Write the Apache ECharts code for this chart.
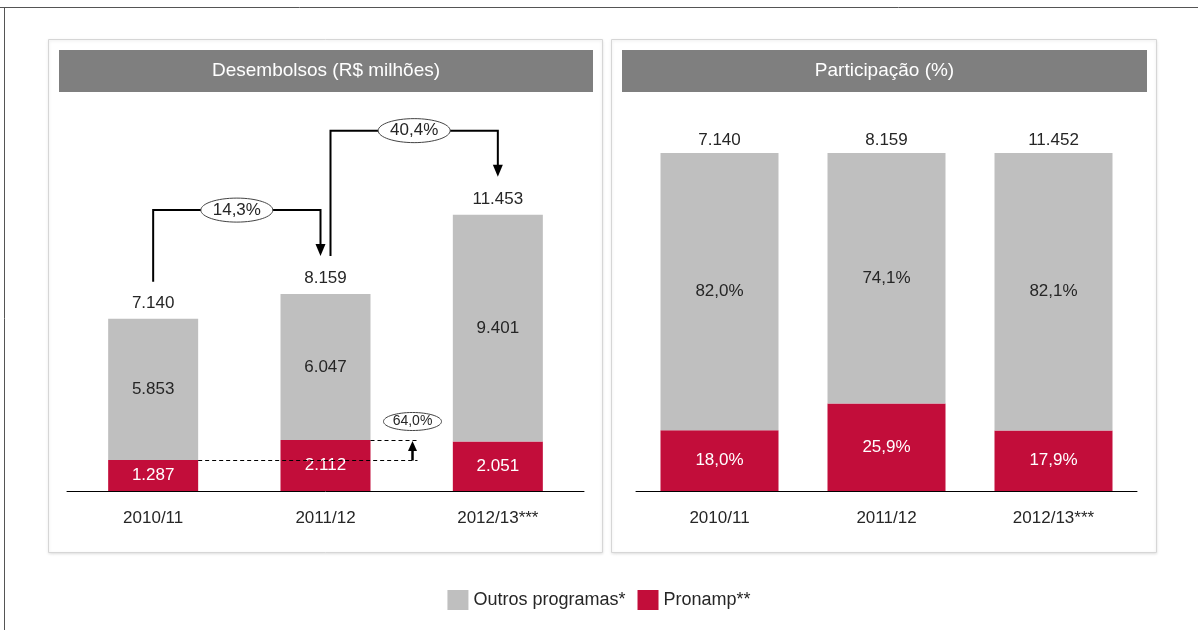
<!DOCTYPE html>
<html>
<head>
<meta charset="utf-8">
<script src="https://cdn.jsdelivr.net/npm/echarts@6/dist/echarts.min.js"></script>
<style>
  html, body { margin: 0; padding: 0; background: #fff; }
  #chart { width: 1198px; height: 630px; }
</style>
</head>
<body>
<div id="chart"></div>
<script>
// data
const categories = ['2010/11', '2011/12', '2012/13***']
const outrosValues = [5853, 6047, 9401]
const pronampValues = [1287, 2112, 2051]
const totalLabels = ['7.140', '8.159', '11.453']

const outrosShare = [82.0, 74.1, 82.1]
const pronampShare = [18.0, 25.9, 17.9]
const shareTotalLabels = ['7.140', '8.159', '11.452']

const growthLabels = ['14,3%', '40,4%']
const pronampGrowthLabel = '64,0%'

const GRAY = '#bfbfbf'
const RED = '#c20d3a'
const FONT = '"Liberation Sans", Arial, sans-serif'
const TEXT = '#262626'

function fmtThousands(v) {
  return String(v).replace(/\B(?=(\d{3})+(?!\d))/g, '.')
}
function fmtPct(v) {
  return v.toFixed(1).replace('.', ',') + '%'
}

const totals = outrosValues.map((v, i) => v + pronampValues[i])

const chart = echarts.init(document.getElementById('chart'))

const labelBase = { fontFamily: FONT, fontSize: 17 }

const option = {
  animation: false,
  textStyle: { fontFamily: FONT },
  legend: {
    data: [{ name: 'Outros programas*' }, { name: 'Pronamp**' }],
    left: 'center',
    top: 585,
    icon: 'rect',
    itemWidth: 21,
    itemHeight: 20,
    itemGap: 12,
    textStyle: { color: TEXT, fontSize: 18, fontFamily: FONT },
  },
  grid: [
    { left: 67, right: 1198 - 584, top: 129, bottom: 139 },
    { left: 636, right: 1198 - 1137, top: 153, bottom: 139 },
  ],
  xAxis: [0, 1].map(i => ({
    type: 'category',
    gridIndex: i,
    data: categories,
    axisLine: { lineStyle: { color: '#000', width: 1 } },
    axisTick: { show: false },
    axisLabel: { color: TEXT, fontSize: 17, fontFamily: FONT, margin: 19 },
  })),
  yAxis: [
    { type: 'value', gridIndex: 0, min: 0, max: 15000, show: false, splitLine: { show: false } },
    { type: 'value', gridIndex: 1, min: 0, max: 100, show: false, splitLine: { show: false } },
  ],
  series: [
    {
      name: 'Pronamp**',
      type: 'bar',
      stack: 'left',
      xAxisIndex: 0,
      yAxisIndex: 0,
      barWidth: 90,
      itemStyle: { color: RED },
      label: { show: true, position: 'inside', color: '#fff', ...labelBase, formatter: p => fmtThousands(p.value) },
      data: pronampValues,
    },
    {
      name: 'Outros programas*',
      type: 'bar',
      stack: 'left',
      xAxisIndex: 0,
      yAxisIndex: 0,
      barWidth: 90,
      itemStyle: { color: GRAY },
      label: { show: true, position: 'inside', color: TEXT, ...labelBase, formatter: p => fmtThousands(p.value) },
      data: outrosValues,
    },
    {
      name: 'totais',
      type: 'scatter',
      xAxisIndex: 0,
      yAxisIndex: 0,
      symbolSize: 0,
      silent: true,
      itemStyle: { opacity: 1 },
      label: { show: true, position: 'top', distance: 7, color: TEXT, ...labelBase, formatter: p => totalLabels[p.dataIndex] },
      data: totals,
    },
    {
      name: 'Pronamp**',
      type: 'bar',
      stack: 'right',
      xAxisIndex: 1,
      yAxisIndex: 1,
      barWidth: 118,
      itemStyle: { color: RED },
      label: { show: true, position: 'inside', color: '#fff', ...labelBase, formatter: p => fmtPct(p.value) },
      data: pronampShare,
    },
    {
      name: 'Outros programas*',
      type: 'bar',
      stack: 'right',
      xAxisIndex: 1,
      yAxisIndex: 1,
      barWidth: 118,
      itemStyle: { color: GRAY },
      label: { show: true, position: 'inside', color: TEXT, ...labelBase, formatter: p => fmtPct(p.value) },
      data: outrosShare,
    },
    {
      name: 'totais %',
      type: 'scatter',
      xAxisIndex: 1,
      yAxisIndex: 1,
      symbolSize: 0,
      silent: true,
      itemStyle: { opacity: 1 },
      label: { show: true, position: 'top', distance: 4, color: TEXT, ...labelBase, formatter: p => shareTotalLabels[p.dataIndex] },
      data: outrosShare.map((v, i) => v + pronampShare[i]),
    },
  ],
}

chart.setOption(option)

// frame, panels and annotations
function px(cat, val) {
  return chart.convertToPixel({ gridIndex: 0 }, [cat, val])
}

function ellipseLabel(cx, cy, rx, ry, text, size) {
  return [
    { type: 'ellipse', shape: { cx, cy, rx, ry }, style: { fill: '#fff', stroke: '#444', lineWidth: 1 }, z: 10 },
    { type: 'text', x: cx, y: cy, style: { text, align: 'center', verticalAlign: 'middle', fill: TEXT, fontSize: size, fontFamily: FONT }, z: 11 },
  ]
}

function arrowDown(x, y) {
  return { type: 'polygon', shape: { points: [[x - 5, y - 12], [x + 5, y - 12], [x, y]] }, style: { fill: '#000' }, z: 10 }
}
function arrowUp(x, y) {
  return { type: 'polygon', shape: { points: [[x - 4.5, y + 10], [x + 4.5, y + 10], [x, y]] }, style: { fill: '#000' }, z: 10 }
}

function buildGraphics() {
  const els = []
  // outer frame (top and left edges)
  els.push({ type: 'line', shape: { x1: 0, y1: 7.5, x2: 1198, y2: 7.5 }, style: { stroke: '#555', lineWidth: 1 } })
  els.push({ type: 'line', shape: { x1: 4.5, y1: 7, x2: 4.5, y2: 630 }, style: { stroke: '#555', lineWidth: 1 } })

  // panels
  const panels = [
    { x: 48, w: 554, tx: 59, tw: 534, title: 'Desembolsos (R$ milhões)' },
    { x: 611, w: 545, tx: 622, tw: 525, title: 'Participação (%)' },
  ]
  panels.forEach(p => {
    els.push({
      type: 'rect', z: -10,
      shape: { x: p.x + 0.5, y: 39.5, width: p.w, height: 513 },
      style: { fill: '#fff', stroke: '#d6d6d6', lineWidth: 1, shadowBlur: 3, shadowColor: 'rgba(0,0,0,0.12)', shadowOffsetY: 1 },
    })
    els.push({ type: 'rect', z: -5, shape: { x: p.tx, y: 50, width: p.tw, height: 42 }, style: { fill: '#7f7f7f' } })
    els.push({
      type: 'text', z: -4, x: p.tx + p.tw / 2, y: 71,
      style: { text: p.title, align: 'center', verticalAlign: 'middle', fill: '#fff', fontSize: 19, fontFamily: FONT },
    })
  })

  // growth connectors on the left chart
  const tops = totals.map((t, i) => px(i, t))
  const gap = 84
  const lineStyle = { stroke: '#000', lineWidth: 2, fill: null }

  // 2010/11 -> 2011/12
  const lvl1 = Math.min(tops[0][1], tops[1][1]) - gap
  const x0 = tops[0][0], x1a = tops[1][0] - 5
  els.push({ type: 'polyline', z: 9, shape: { points: [[x0, tops[0][1] - 37], [x0, lvl1], [x1a, lvl1], [x1a, tops[1][1] - 49]] }, style: lineStyle })
  els.push(arrowDown(x1a, tops[1][1] - 38))
  els.push(...ellipseLabel((x0 + x1a) / 2, lvl1, 36, 12, growthLabels[0], 17))

  // 2011/12 -> 2012/13
  const lvl2 = Math.min(tops[1][1], tops[2][1]) - gap
  const x1b = tops[1][0] + 5, x2 = tops[2][0]
  els.push({ type: 'polyline', z: 9, shape: { points: [[x1b, tops[1][1] - 38], [x1b, lvl2], [x2, lvl2], [x2, tops[2][1] - 49]] }, style: lineStyle })
  els.push(arrowDown(x2, tops[2][1] - 38))
  els.push(...ellipseLabel((x1b + x2) / 2, lvl2, 36, 12, growthLabels[1], 17))

  // pronamp growth (dashed)
  const r0 = px(0, pronampValues[0])
  const r1 = px(1, pronampValues[1])
  const y0 = Math.round(r0[1]) + 0.5
  const y1 = Math.round(r1[1]) + 0.5
  const endX = r1[0] + 92
  const arrX = r1[0] + 87
  const dash = { stroke: '#000', lineWidth: 1, lineDash: [4, 3] }
  els.push({ type: 'line', z: 9, shape: { x1: r0[0] + 45, y1: y0, x2: endX, y2: y0 }, style: dash })
  els.push({ type: 'line', z: 9, shape: { x1: r1[0] + 45, y1: y1, x2: endX, y2: y1 }, style: dash })
  els.push({ type: 'line', z: 9, shape: { x1: arrX, y1: y0, x2: arrX, y2: y1 + 8 }, style: { stroke: '#000', lineWidth: 2.5 } })
  els.push(arrowUp(arrX, y1 + 0.5))
  els.push(...ellipseLabel(arrX, y1 - 19, 29, 9, pronampGrowthLabel, 14))

  return els
}

chart.setOption({ graphic: { elements: buildGraphics() } })
</script>
</body>
</html>
